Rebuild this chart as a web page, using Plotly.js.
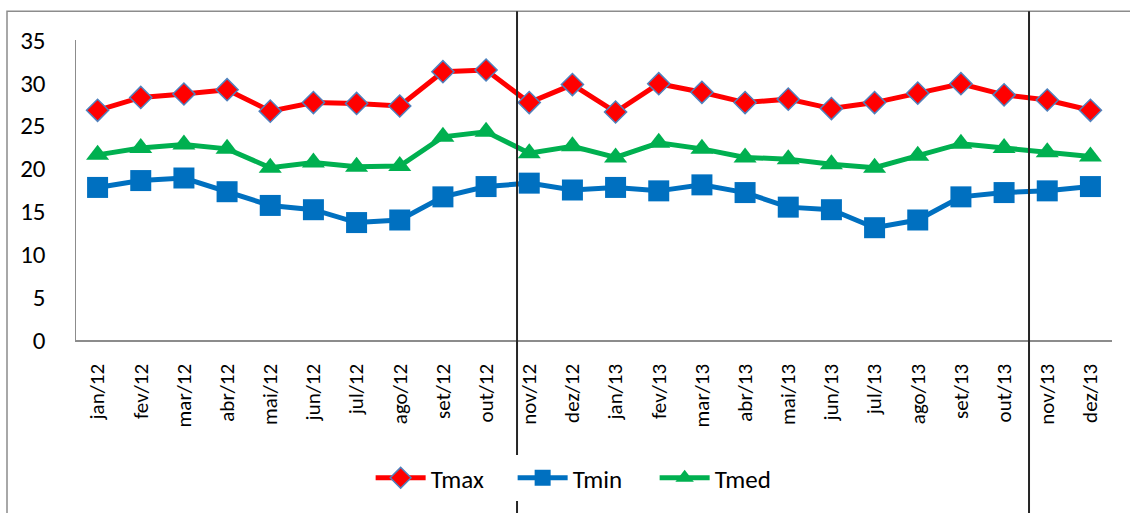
<!DOCTYPE html>
<html>
<head>
<meta charset="utf-8">
<script src="https://cdn.plot.ly/plotly-3.0.1.min.js"></script>
<style>html,body{margin:0;padding:0;background:#fff;}#chart{width:1130px;height:513px;}</style>
</head>
<body>
<div id="chart"></div>
<script>
const months = ["jan/12","fev/12","mar/12","abr/12","mai/12","jun/12","jul/12","ago/12","set/12","out/12","nov/12","dez/12",
                "jan/13","fev/13","mar/13","abr/13","mai/13","jun/13","jul/13","ago/13","set/13","out/13","nov/13","dez/13"];
const tmax = [26.8,28.3,28.7,29.2,26.7,27.7,27.6,27.3,31.3,31.5,27.7,29.8,26.6,29.9,28.9,27.7,28.1,27.0,27.7,28.8,29.9,28.6,28.0,26.8];
const tmin = [17.8,18.6,18.9,17.3,15.7,15.2,13.7,14.0,16.7,17.9,18.3,17.5,17.8,17.4,18.1,17.2,15.5,15.2,13.1,14.0,16.7,17.2,17.4,17.9];
const tmed = [21.6,22.4,22.8,22.3,20.1,20.7,20.2,20.3,23.7,24.3,21.8,22.6,21.3,23.0,22.3,21.3,21.1,20.5,20.1,21.5,22.9,22.4,21.9,21.4];
const yTicks = [0,5,10,15,20,25,30,35];

const font = "Carlito, Calibri, Lato, 'Open Sans', sans-serif";

const traces = [
  {x: months, y: tmax, name: "Tmax", type: "scatter", mode: "lines+markers",
   line: {color: "#FF0000", width: 5},
   marker: {symbol: "diamond", size: 17, color: "#FF0000", line: {color: "#4F81BD", width: 1.5}}},
  {x: months, y: tmin, name: "Tmin", type: "scatter", mode: "lines+markers",
   line: {color: "#0070C0", width: 5},
   marker: {symbol: "square", size: 21, color: "#0070C0", line: {color: "#0070C0", width: 0}}},
  {x: months, y: tmed, name: "Tmed", type: "scatter", mode: "lines+markers",
   line: {color: "#00B050", width: 5},
   marker: {symbol: "triangle-up", size: 20, color: "#00B050", line: {width: 0}}}
];

const lineColor = "#262626";
const layout = {
  width: 1130, height: 513,
  margin: {l: 76, r: 18, t: 40, b: 171},
  paper_bgcolor: "#ffffff", plot_bgcolor: "#ffffff",
  font: {family: font, size: 20, color: "#000"},
  showlegend: true,
  legend: {orientation: "h", x: 0.49, xanchor: "center", y: -0.46, yanchor: "middle",
           font: {family: font, size: 25, color: "#000"}, itemwidth: 50, tracegroupgap: 0,
           entrywidth: 77, entrywidthmode: "pixels"},
  xaxis: {type: "category", tickangle: -90, showgrid: false, zeroline: false,
          showline: true, linecolor: "#8c8c8c", linewidth: 1.5, ticks: "",
          ticklabelstandoff: 14, tickfont: {family: font, size: 21, color: "#000"},
          range: [-0.5, 23.5]},
  yaxis: {range: [0, 35], tickvals: yTicks, ticktext: yTicks.map(String), showgrid: false, zeroline: false,
          showline: true, linecolor: "#8c8c8c", linewidth: 1.5, ticks: "",
          ticklabelstandoff: 24, tickfont: {family: font, size: 25, color: "#000"}},
  shapes: [
    {type: "rect", xref: "paper", yref: "paper", x0: -0.0666, x1: 1.06, y0: -0.62, y1: 1.096,
     line: {color: "#8c8c8c", width: 1.5}, fillcolor: "rgba(0,0,0,0)", layer: "below"},
    {type: "line", xref: "paper", yref: "paper", x0: 0.4257, x1: 0.4257, y0: -0.62, y1: 1.096,
     line: {color: lineColor, width: 2}},
    {type: "line", xref: "paper", yref: "paper", x0: 0.9199, x1: 0.9199, y0: -0.62, y1: 1.096,
     line: {color: lineColor, width: 2}}
  ]
};

Plotly.newPlot("chart", traces, layout, {displayModeBar: false, staticPlot: true});
</script>
</body>
</html>
